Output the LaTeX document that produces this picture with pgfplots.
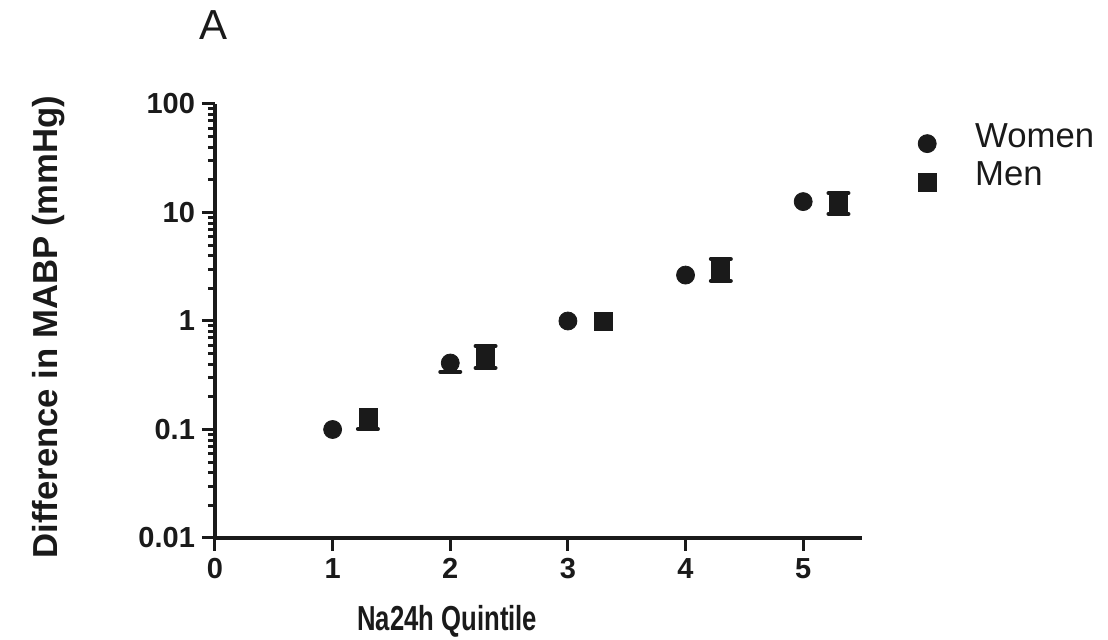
\documentclass[border=0pt]{standalone}
\usepackage{fontspec}
\setmainfont{Liberation Sans}
\newfontfamily\narrowfont[FakeStretch=0.74]{Liberation Sans}
\usepackage{pgfplots}
\pgfplotsset{compat=1.18}
\definecolor{ink}{HTML}{1A1A1A}

\begin{document}
\begin{tikzpicture}
\useasboundingbox (-107.5pt,-51pt) rectangle (446.5pt,269pt);
\begin{axis}[
    at={(0pt,0pt)}, anchor=south west,
    scale only axis,
    width=323.5pt, height=217pt,
    xmin=0, xmax=5.5,
    ymode=log, ymin=0.01, ymax=100,
    axis x line*=bottom, axis y line*=left,
    axis line style={line width=2pt, ink},
    xtick={0,1,2,3,4,5},
    ytick={0.01,0.1,1,10,100},
    yticklabels={0.01,0.1,1,10,100},
    minor x tick num=0,
    minor ytick={0.02,0.03,0.04,0.05,0.06,0.07,0.08,0.09,
                 0.2,0.3,0.4,0.5,0.6,0.7,0.8,0.9,
                 2,3,4,5,6,7,8,9,
                 20,30,40,50,60,70,80,90},
    tick align=outside,
    major tick length=6.5pt, minor tick length=3.5pt,
    every tick/.style={line width=1.5pt, ink},
    tick label style={font=\fontsize{14.5}{16}\selectfont\bfseries, text=ink},
    /pgf/number format/assume math mode=true,
    xlabel={Na24h Quintile},
    ylabel={Difference in MABP (mmHg)},
    xlabel style={font=\narrowfont\fontsize{17.35}{20}\selectfont\bfseries, text=ink,
        at={(axis description cs:0.359,-0.212)}, anchor=base},
    ylabel style={font=\fontsize{17.35}{20}\selectfont\bfseries, text=ink,
        at={(axis description cs:-0.2427,0.486)}, anchor=base},
    legend style={draw=none, fill=none, text=ink,
        font=\fontsize{17.35}{20}\selectfont,
        at={(axis description cs:1.077,0.88)}, anchor=west,
        column sep=17.5pt, row sep=2pt},
    legend image code/.code={
        \draw[mark repeat=2,mark phase=2,#1]
            plot coordinates {(0cm,-3.5pt) (0.3cm,-3.5pt) (0.6cm,-3.5pt)};},
    legend cell align=left,
    clip=false,
]

% error bars (only the caps that show outside the markers)
\addplot[forget plot, ink, only marks, mark=none,
    error bars/.cd, y dir=minus, y explicit,
    error bar style={line width=2pt, ink},
    error mark options={rotate=90, mark size=5pt, line width=2pt, line cap=round, ink}]
    coordinates {
    (2,0.41) -= (0,0.07)
    (1.3,0.128) -= (0,0.027)
};
\addplot[forget plot, ink, only marks, mark=none,
    error bars/.cd, y dir=both, y explicit,
    error bar style={line width=2pt, ink},
    error mark options={rotate=90, mark size=5pt, line width=2pt, line cap=round, ink}]
    coordinates {
    (2.3,0.466) += (0,0.122) -= (0,0.097)
    (4.3,2.95) += (0,0.78) -= (0,0.61)
    (5.3,12.1) += (0,3.0) -= (0,2.4)
};

\addplot[only marks, mark=*, mark size=4.5pt, ink] coordinates {
    (1,0.1) (2,0.41) (3,1) (4,2.65) (5,12.6)
};
\addlegendentry{Women}
\addplot[only marks, mark=square*, mark size=4.5pt, ink] coordinates {
    (1.3,0.128) (2.3,0.466) (3.3,1) (4.3,2.95) (5.3,12.1)
};
\addlegendentry{Men}
\end{axis}
\node[font=\fontsize{21}{24}\selectfont, text=ink] at (-0.5pt,256.5pt) {A};
\end{tikzpicture}
\end{document}
